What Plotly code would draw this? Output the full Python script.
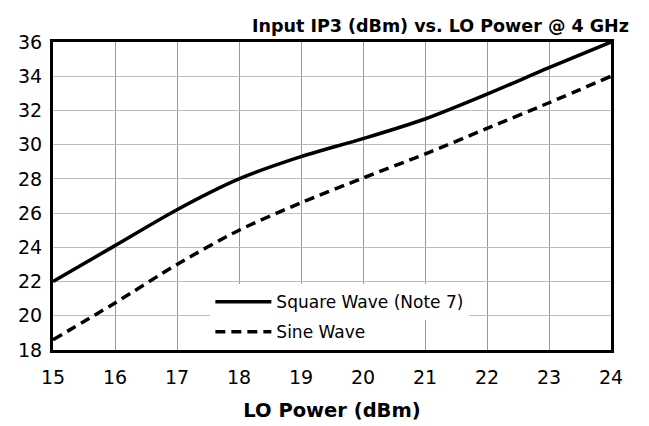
import plotly.graph_objects as go

lo_power = [15, 16, 17, 18, 19, 20, 21, 22, 23, 24]
square_wave = [22.0, 24.1, 26.2, 28.0, 29.3, 30.35, 31.5, 32.95, 34.5, 36.0]
sine_wave = [18.6, 20.75, 23.0, 25.0, 26.6, 28.05, 29.45, 30.95, 32.45, 34.0]
x_ticks = [15, 16, 17, 18, 19, 20, 21, 22, 23, 24]
y_ticks = [18, 20, 22, 24, 26, 28, 30, 32, 34, 36]

fig = go.Figure()
fig.add_trace(go.Scatter(x=lo_power, y=square_wave, mode="lines", name="Square Wave (Note 7)",
                         legend="legend",
                         line=dict(color="black", width=3.5, shape="spline", smoothing=0.8)))
fig.add_trace(go.Scatter(x=lo_power, y=sine_wave, mode="lines", name="Sine Wave",
                         legend="legend2",
                         line=dict(color="black", width=3.5, dash="10px,6px", shape="spline", smoothing=0.8)))

leg_common = dict(xanchor="left", yanchor="middle", bgcolor="white",
                  font=dict(size=17, family="DejaVu Sans", color="black"), itemwidth=56)

fig.update_layout(
    width=641, height=418,
    margin=dict(l=45, r=38, t=34, b=76),
    paper_bgcolor="white", plot_bgcolor="white",
    font=dict(family="DejaVu Sans", size=19, color="black"),
    showlegend=True,
    legend=dict(x=0.282, y=0.155, **leg_common),
    legend2=dict(x=0.282, y=0.058, **leg_common),
    annotations=[dict(text="<b>Input IP3 (dBm) vs. LO Power @ 4 GHz</b>", xref="paper", yref="paper",
                      x=1.035, y=1.0, xanchor="right", yanchor="bottom", yshift=4, showarrow=False,
                      font=dict(size=17.5))],
)
fig.update_xaxes(range=[15, 24], tickvals=x_ticks, showgrid=True, gridcolor="#999999", gridwidth=1,
                 showline=True, linecolor="black", linewidth=3, mirror=True, zeroline=False,
                 ticks="", ticklen=0, ticklabelstandoff=8, automargin=False,
                 title=dict(text="<b>LO Power (dBm)</b>", font=dict(size=19.5), standoff=17))
fig.update_yaxes(range=[18, 36], tickvals=y_ticks, showgrid=True, gridcolor="#bbbbbb", gridwidth=1,
                 showline=True, linecolor="black", linewidth=3, mirror=True, zeroline=False,
                 ticks="", ticklen=0, ticklabelstandoff=4, automargin=False)

fig.write_html("out.html")
